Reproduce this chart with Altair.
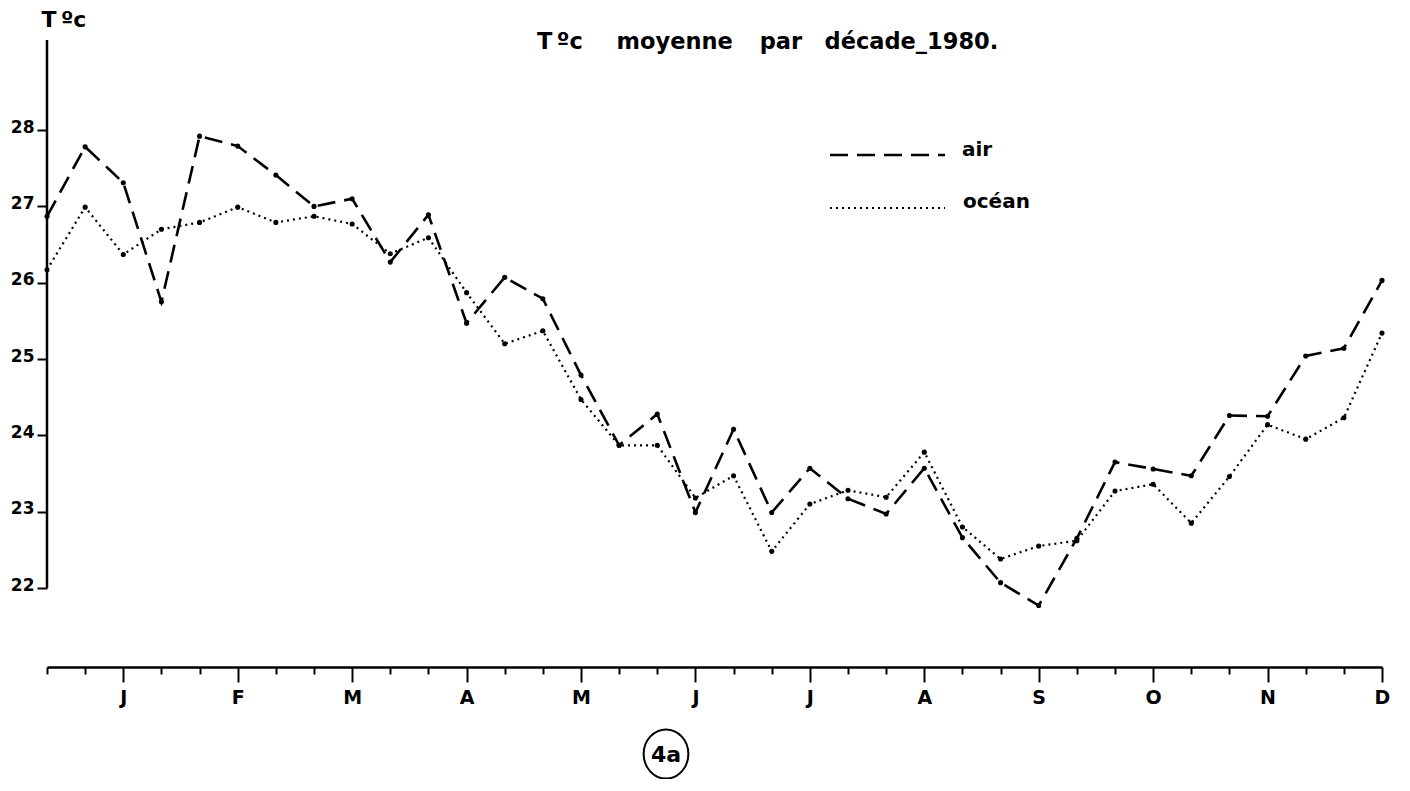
import altair as alt
import pandas as pd

# ---- data (one value per 10-day "décade", 36 per year)
DECADES = list(range(36))
AIR = [26.87, 27.78, 27.31, 25.75, 27.92, 27.79, 27.41, 27.00, 27.10, 26.27,
       26.89, 25.47, 26.07, 25.79, 24.79, 23.87, 24.28, 22.99, 24.08, 22.99,
       23.57, 23.17, 22.97, 23.57, 22.66, 22.07, 21.77, 22.65, 23.65, 23.56,
       23.47, 24.26, 24.25, 25.04, 25.14, 26.03]
OCEAN = [26.17, 26.99, 26.37, 26.70, 26.79, 26.99, 26.79, 26.87, 26.77, 26.38,
         26.59, 25.87, 25.20, 25.37, 24.47, 23.87, 23.87, 23.18, 23.47, 22.48,
         23.10, 23.28, 23.19, 23.78, 22.80, 22.38, 22.55, 22.62, 23.27, 23.36,
         22.85, 23.46, 24.14, 23.95, 24.23, 25.34]
SERIES = ["air", "océan"]
MONTHS = ["J", "F", "M", "A", "M", "J", "J", "A", "S", "O", "N", "D"]
Y_TICKS = [22, 23, 24, 25, 26, 27, 28]
EN = "\u2002"
TITLE = "T\u2009ºc" + EN * 3 + "moyenne" + EN * 2 + "\u2009par" + EN * 2 + "décade_1980."
Y_TITLE = "T\u2009ºc"
FIG_LABEL = "4a"

FONT = "DejaVu Sans"
X_DOMAIN = [0, 35]
Y_DOMAIN = [20.965, 29.18]

df = pd.DataFrame({
    "decade": DECADES * 2,
    "temp": AIR + OCEAN,
    "serie": [SERIES[0]] * len(AIR) + [SERIES[1]] * len(OCEAN),
})

month_js = "[" + ",".join("'%s'" % m for m in MONTHS) + "]"
label_expr = "datum.value % 3 == 2 ? " + month_js + "[floor(datum.value / 3)] : ''"

x_scale = alt.Scale(domain=X_DOMAIN, nice=False, zero=False)
y_scale = alt.Scale(domain=Y_DOMAIN, nice=False, zero=False)

x_axis = alt.Axis(
    values=DECADES,
    tickCount=36,
    title=None,
    grid=False,
    tickSize={"condition": {"test": "datum.value % 3 == 2 || datum.value == 35", "value": 15}, "value": 7},
    tickWidth=2,
    tickColor="black",
    domainColor="black",
    domainWidth=2.5,
    labelExpr=label_expr,
    labelFont=FONT,
    labelFontSize=19,
    labelFontWeight="bold",
    labelColor="black",
    labelPadding=6,
    labelAngle=0,
    labelFlush=False,
    labelOverlap=False,
)
y_axis = alt.Axis(
    values=Y_TICKS,
    format="d",
    title=Y_TITLE,
    titleAngle=0,
    titleX=-6,
    titleY=-21,
    titleAlign="left",
    titleBaseline="middle",
    titleFont=FONT,
    titleFontSize=22,
    titleFontWeight="bold",
    titleColor="black",
    grid=False,
    domain=False,
    tickSize=10,
    tickWidth=2,
    tickColor="black",
    labelFont=FONT,
    labelFontSize=17,
    labelFontWeight="bold",
    labelColor="black",
    labelPadding=3,
    labelOffset=-3,
)

x_enc = alt.X("decade:Q", scale=x_scale, axis=x_axis)
y_enc = alt.Y("temp:Q", scale=y_scale, axis=y_axis)

lines = alt.Chart(df).mark_line(color="black").encode(
    x=x_enc,
    y=y_enc,
    strokeDash=alt.StrokeDash("serie:N", scale=alt.Scale(domain=SERIES, range=[[18, 9], [2, 4]]), legend=None),
    strokeWidth=alt.StrokeWidth("serie:N", scale=alt.Scale(domain=SERIES, range=[2.6, 2.2]), legend=None),
    detail="serie:N",
)
points = alt.Chart(df).mark_circle(color="black", size=26, opacity=1).encode(
    x=x_enc, y=y_enc
)

y_axis_line = alt.Chart(pd.DataFrame({"a": [0]})).mark_rule(color="black", strokeWidth=2.5).encode(
    x=alt.XDatum(X_DOMAIN[0], type="quantitative", scale=x_scale, axis=x_axis),
    y=alt.YDatum(Y_TICKS[0], type="quantitative", scale=y_scale, axis=y_axis),
    y2=alt.Y2Datum(Y_DOMAIN[1]),
)

title = alt.Chart(pd.DataFrame({"t": [TITLE]})).mark_text(
    font=FONT, fontSize=22.5, fontWeight="bold", align="left", baseline="middle", color="black"
).encode(text="t:N", x=alt.value(490), y=alt.value(2))

leg_air_line = alt.Chart(pd.DataFrame({"s": [SERIES[0]]})).mark_rule(
    color="black", strokeWidth=2.6, strokeDash=[18, 9]
).encode(x=alt.value(783), x2=alt.value(898), y=alt.value(115))
leg_oce_line = alt.Chart(pd.DataFrame({"s": [SERIES[1]]})).mark_rule(
    color="black", strokeWidth=2.2, strokeDash=[2, 4]
).encode(x=alt.value(783), x2=alt.value(898), y=alt.value(168))
leg_air_txt = alt.Chart(pd.DataFrame({"s": [SERIES[0]]})).mark_text(
    font=FONT, fontSize=20, fontWeight="bold", align="left", baseline="middle", color="black"
).encode(text="s:N", x=alt.value(915), y=alt.value(110))
leg_oce_txt = alt.Chart(pd.DataFrame({"s": [SERIES[1]]})).mark_text(
    font=FONT, fontSize=20, fontWeight="bold", align="left", baseline="middle", color="black"
).encode(text="s:N", x=alt.value(916), y=alt.value(162))

ELLIPSE = "M0,-1.1A1,1.1 0 1,1 0,1.1A1,1.1 0 1,1 0,-1.1Z"
fig_circle = alt.Chart(pd.DataFrame({"t": [FIG_LABEL]})).mark_point(
    shape=ELLIPSE, size=2000, color="black", filled=False, strokeWidth=2, opacity=1
).encode(x=alt.value(619), y=alt.value(714))
fig_text = alt.Chart(pd.DataFrame({"t": [FIG_LABEL]})).mark_text(
    font=FONT, fontSize=22, fontWeight="bold", align="center", baseline="middle", color="black"
).encode(text="t:N", x=alt.value(619), y=alt.value(715))

chart = alt.layer(
    lines, points, y_axis_line, title,
    leg_air_line, leg_oce_line, leg_air_txt, leg_oce_txt,
    fig_circle, fig_text,
).properties(
    width=1335,
    height=627,
    padding={"left": 39, "top": 32, "right": 14, "bottom": 112},
    autosize=alt.AutoSizeParams(type="none"),
).configure(
    background="white",
    view=alt.ViewConfig(stroke=None),
)

chart.save("out.html", embed_options={"renderer": "svg", "actions": False})
